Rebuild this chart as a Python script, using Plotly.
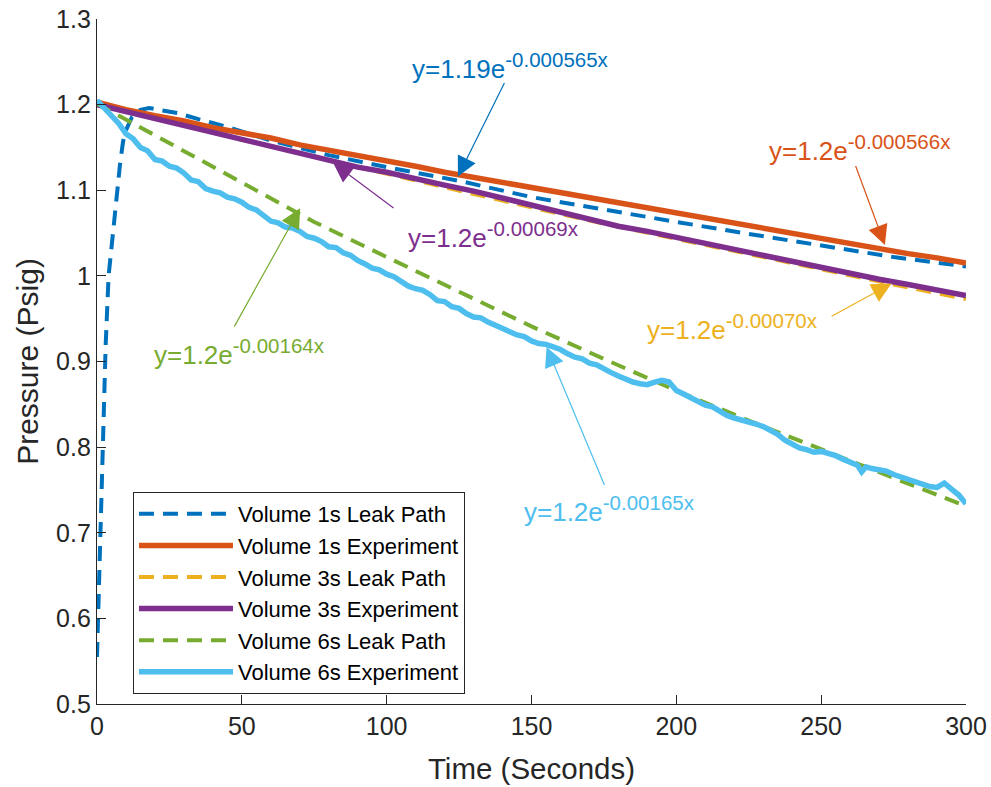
import plotly.graph_objects as go

# ---------------- data ----------------
lp1_t = [0, 1, 2, 3, 4, 5, 6, 7, 8, 9, 10, 12, 15, 18, 22, 28, 35, 45, 60, 80, 100,
         125, 150, 175, 200, 225, 250, 275, 300]
lp1_p = [0.555, 0.69, 0.81, 0.92, 1.00, 1.035, 1.063, 1.098, 1.132, 1.157, 1.170, 1.185,
         1.194, 1.196, 1.194, 1.190, 1.183, 1.174, 1.158, 1.141, 1.127,
         1.111, 1.092, 1.077, 1.063, 1.049, 1.035, 1.022, 1.011]

exp1_t = list(range(0, 301, 10))
exp1_p = [1.203, 1.194, 1.187, 1.181, 1.173, 1.167, 1.161, 1.153, 1.147, 1.141, 1.135,
          1.128, 1.121, 1.115, 1.109, 1.103, 1.097, 1.091, 1.085, 1.079, 1.073,
          1.068, 1.062, 1.056, 1.049, 1.043, 1.037, 1.031, 1.026, 1.021, 1.015]

lp3_t = [0, 25, 50, 75, 100, 125, 150, 175, 200, 225, 250, 275, 300]
lp3_p = [1.200, 1.179, 1.159, 1.139, 1.119, 1.099, 1.080, 1.061, 1.043, 1.025, 1.007,
         0.990, 0.973]

exp3_t = list(range(0, 301, 10))
exp3_p = [1.200, 1.192, 1.184, 1.175, 1.167, 1.159, 1.151, 1.143, 1.135, 1.127, 1.121,
          1.113, 1.106, 1.099, 1.091, 1.083, 1.074, 1.066, 1.058, 1.052, 1.045,
          1.037, 1.031, 1.024, 1.016, 1.009, 1.002, 0.996, 0.990, 0.984, 0.977]

lp6_t = [0, 25, 50, 75, 100, 125, 150, 175, 200, 225, 250, 275, 300]
lp6_p = [1.201, 1.155, 1.108, 1.063, 1.022, 0.981, 0.941, 0.903, 0.866, 0.831, 0.797,
         0.764, 0.731]

exp6_t = [0, 2.5, 5, 7.5, 10, 12.5, 15, 17.5, 20, 22.5, 25, 27.5, 30, 32.5, 35, 37.5,
          40, 42.5, 45, 47.5, 50, 52.5, 55, 57.5, 60, 62.5, 65, 67.5, 70, 72.5, 75,
          77.5, 80, 82.5, 85, 87.5, 90, 92.5, 95, 97.5, 100, 102.5, 105, 107.5, 110,
          112.5, 115, 117.5, 120, 122.5, 125, 127.5, 130, 132.5, 135, 137.5, 140,
          142.5, 145, 147.5, 150, 152.5, 155, 157.5, 160, 162.5, 165, 167.5, 170,
          172.5, 175, 177.5, 180, 182.5, 185, 187.5, 190, 192.5, 195, 197.5, 200,
          202.5, 205, 207.5, 210, 212.5, 215, 217.5, 220, 222.5, 225, 227.5, 230,
          232.5, 235, 237.5, 240, 242.5, 245, 247.5, 250, 252.5, 255, 257.5, 260,
          262.5, 264, 265.5, 267.5, 270, 272.5, 275, 277.5, 280, 282.5, 285, 287.5,
          290, 292.5, 295, 297.5, 300]
exp6_p = [1.205, 1.196, 1.186, 1.178, 1.166, 1.160, 1.150, 1.146, 1.136, 1.134, 1.128,
          1.126, 1.120, 1.112, 1.110, 1.102, 1.099, 1.097, 1.092, 1.090, 1.086, 1.080,
          1.077, 1.071, 1.064, 1.062, 1.057, 1.056, 1.052, 1.046, 1.044, 1.040, 1.034,
          1.033, 1.027, 1.024, 1.018, 1.014, 1.009, 1.007, 1.002, 0.999, 0.994, 0.988,
          0.985, 0.983, 0.978, 0.971, 0.970, 0.964, 0.962, 0.956, 0.952, 0.951, 0.946,
          0.942, 0.939, 0.935, 0.931, 0.929, 0.924, 0.921, 0.920, 0.917, 0.914, 0.909,
          0.905, 0.903, 0.898, 0.896, 0.891, 0.887, 0.883, 0.879, 0.876, 0.874, 0.873,
          0.876, 0.878, 0.876, 0.866, 0.862, 0.858, 0.853, 0.849, 0.847, 0.842, 0.837,
          0.834, 0.832, 0.829, 0.827, 0.824, 0.820, 0.815, 0.808, 0.803, 0.799, 0.797,
          0.794, 0.795, 0.793, 0.790, 0.786, 0.783, 0.779, 0.771, 0.777, 0.775, 0.773,
          0.772, 0.768, 0.765, 0.762, 0.760, 0.757, 0.754, 0.753, 0.758, 0.751, 0.744,
          0.734]

x_ticks = [0, 50, 100, 150, 200, 250, 300]
y_ticks = [0.5, 0.6, 0.7, 0.8, 0.9, 1.0, 1.1, 1.2, 1.3]
y_ticktext = ["0.5", "0.6", "0.7", "0.8", "0.9", "1", "1.1", "1.2", "1.3"]

# fit labels: (base, exponent, colour, text x, text y, head x, head y, tail x, tail y)
fit_labels = [
    ("y=1.19e", "-0.000565x", "#0072BD", 108.1, 1.245, 124.6, 1.116, 140.9, 1.227),
    ("y=1.2e", "-0.000566x", "#D95319", 231.3, 1.149, 272.0, 1.036, 261.7, 1.130),
    ("y=1.2e", "-0.00069x", "#7E2F8E", 106.7, 1.048, 81.5, 1.132, 102.9, 1.078),
    ("y=1.2e", "-0.00070x", "#EDB120", 189.2, 0.940, 274.3, 0.991, 253.1, 0.952),
    ("y=1.2e", "-0.00164x", "#77AC30", 19.0, 0.911, 70.1, 1.079, 47.1, 0.939),
    ("y=1.2e", "-0.00165x", "#4DBEEE", 146.7, 0.728, 155.2, 0.917, 175.4, 0.754),
]

FONT = "Liberation Sans, Arial, Helvetica, sans-serif"
AX = "#262626"

fig = go.Figure()
series = [
    ("Volume 1s Leak Path", lp1_t, lp1_p, "#0072BD", "15px,9px", 4),
    ("Volume 1s Experiment", exp1_t, exp1_p, "#D95319", "solid", 5.5),
    ("Volume 3s Leak Path", lp3_t, lp3_p, "#EDB120", "15px,9px", 4),
    ("Volume 3s Experiment", exp3_t, exp3_p, "#7E2F8E", "solid", 5.5),
    ("Volume 6s Leak Path", lp6_t, lp6_p, "#77AC30", "15px,9px", 4),
    ("Volume 6s Experiment", exp6_t, exp6_p, "#4DBEEE", "solid", 5.5),
]
for name, t, p, c, d, w in series:
    fig.add_trace(go.Scatter(x=t, y=p, mode="lines", name=name,
                             line=dict(color=c, dash=d, width=w)))

annotations = []
for base, expo, col, tx, ty, hx, hy, sx, sy in fit_labels:
    annotations.append(dict(x=hx, y=hy, ax=sx, ay=sy, xref="x", yref="y",
                            axref="x", ayref="y", text="", showarrow=True,
                            arrowhead=2, arrowsize=3.3, arrowwidth=1.2,
                            arrowcolor=col))
    txt = base + "<sup><span style='font-size:20.5px'>" + expo + "</span></sup>"
    annotations.append(dict(x=tx, y=ty, xref="x", yref="y", text=txt,
                            showarrow=False, xanchor="left", yanchor="middle",
                            font=dict(family=FONT, size=26, color=col)))

fig.update_layout(
    width=991, height=787,
    margin=dict(l=97, r=25, t=19, b=83),
    paper_bgcolor="white", plot_bgcolor="white",
    font=dict(family=FONT, color=AX),
    showlegend=True,
    legend=dict(x=0.0414, y=0.3095, xanchor="left", yanchor="top",
                bgcolor="white", bordercolor=AX, borderwidth=1,
                font=dict(family=FONT, size=22, color="black"),
                itemwidth=94, tracegroupgap=0),
    annotations=annotations,
    xaxis=dict(range=[0, 300], tickvals=x_ticks, showgrid=False, zeroline=False,
               showline=True, linecolor=AX, linewidth=1.3, ticks="inside",
               ticklen=9, tickcolor=AX, tickfont=dict(size=25, color=AX),
               automargin=False,
               title=dict(text="Time (Seconds)", font=dict(size=29.5, color=AX), standoff=19)),
    yaxis=dict(range=[0.5, 1.3], tickvals=y_ticks, ticktext=y_ticktext, showgrid=False,
               zeroline=False, showline=True, linecolor=AX, linewidth=1.3,
               ticks="inside", ticklen=9, tickcolor=AX,
               tickfont=dict(size=25, color=AX), automargin=False,
               title=dict(text="Pressure (Psig)", font=dict(size=30, color=AX), standoff=8)),
)

fig.write_html("out.html")
